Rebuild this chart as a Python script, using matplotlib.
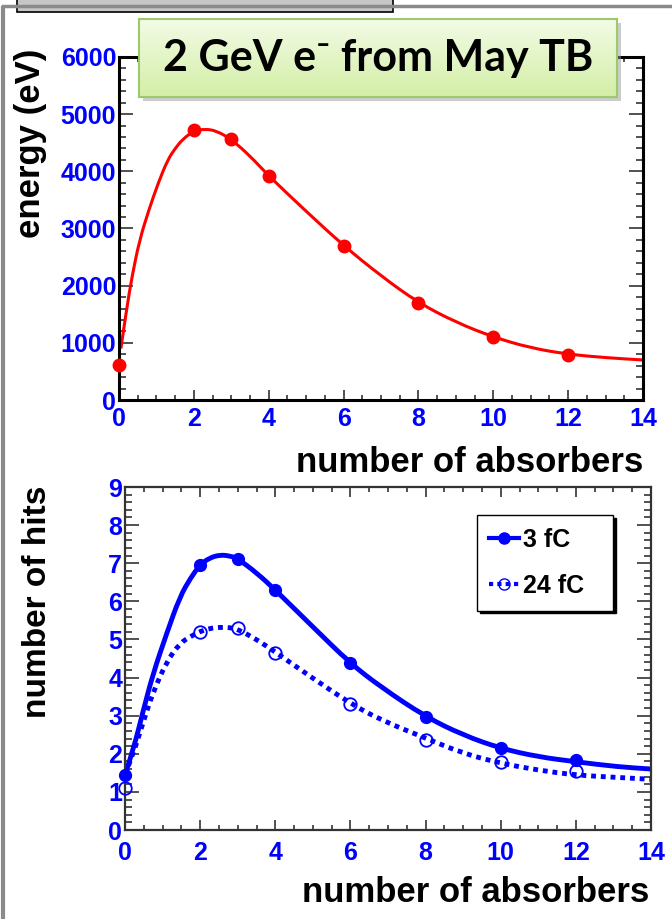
import matplotlib

matplotlib.use("Agg")
import matplotlib.pyplot as plt
import numpy as np
from matplotlib.patches import PathPatch, Rectangle
from matplotlib.path import Path
from matplotlib.lines import Line2D
from matplotlib.ticker import MultipleLocator

# ---------------------------------------------------------------------------
# Data
# ---------------------------------------------------------------------------

absorbers = [0, 2, 3, 4, 6, 8, 10, 12]
energy_ev = [620, 4720, 4560, 3910, 2700, 1690, 1095, 795]
hits_3fc = [1.44, 6.96, 7.10, 6.30, 4.37, 2.97, 2.14, 1.84]
hits_24fc = [1.09, 5.20, 5.29, 4.65, 3.31, 2.36, 1.78, 1.55]

# fitted curves
energy_fit_x = [0.05, 0.2, 0.35, 0.55, 0.8, 1.05, 1.3, 1.5, 1.7, 2.0, 2.3,
                2.6, 3.0, 3.5, 4.0, 5.0, 6.0, 7.0, 8.0, 9.0, 10.0, 11.0,
                12.0, 13.0, 14.0]
energy_fit = [900, 1580, 2170, 2800, 3330, 3800, 4200, 4400, 4560, 4710, 4740,
              4710, 4560, 4270, 3920, 3300, 2700, 2170, 1700, 1360, 1100, 910,
              800, 740, 700]

hits_fit_x = [0.0, 0.22, 0.49, 0.75, 1.11, 1.46, 1.75, 2.0, 2.25, 2.53, 2.8,
              3.0, 3.5, 4.0, 5.0, 6.0, 6.8, 8.0, 9.0, 10.0, 11.0, 12.0, 13.1,
              14.0]
fit_3fc = [1.45, 2.10, 3.15, 4.11, 5.16, 6.12, 6.62, 6.96, 7.14, 7.22, 7.19,
           7.12, 6.75, 6.30, 5.33, 4.37, 3.76, 2.97, 2.49, 2.14, 1.92, 1.79,
           1.66, 1.60]
fit_24fc = [1.45, 2.00, 2.85, 3.62, 4.42, 4.90, 5.08, 5.21, 5.29, 5.32, 5.31,
            5.27, 5.00, 4.67, 3.98, 3.32, 2.89, 2.41, 2.01, 1.75, 1.57, 1.44,
            1.38, 1.33]

x_ticks = [0, 2, 4, 6, 8, 10, 12, 14]
energy_ticks = [0, 1000, 2000, 3000, 4000, 5000, 6000]
hits_ticks = [0, 1, 2, 3, 4, 5, 6, 7, 8, 9]

title_text = "2 GeV e\u207b from May TB"
legend_labels = ["3 fC", "24 fC"]

# ---------------------------------------------------------------------------
# Layout helpers (pixel -> figure fraction)
# ---------------------------------------------------------------------------

W, H = 672, 919


def fx(x):
    return x / W


def fy(y):
    return 1 - y / H


def px_rect(x0, y0, x1, y1):
    return [fx(x0), fy(y1), (x1 - x0) / W, (y1 - y0) / H]


def smooth_curve(ax, xs, ys, **kwargs):
    """Draw the sampled fit as a smooth quadratic Bezier path."""
    pts = list(zip(xs, ys))
    verts = [pts[0]]
    codes = [Path.MOVETO]
    for i in range(1, len(pts) - 1):
        mid = ((pts[i][0] + pts[i + 1][0]) / 2, (pts[i][1] + pts[i + 1][1]) / 2)
        verts += [pts[i], mid]
        codes += [Path.CURVE3, Path.CURVE3]
    verts.append(pts[-1])
    codes.append(Path.LINETO)
    patch = PathPatch(Path(verts, codes), fill=False, **kwargs)
    ax.add_patch(patch)
    return patch


plt.rcParams["font.family"] = ["Liberation Sans", "DejaVu Sans"]
plt.rcParams["font.weight"] = "bold"

fig = plt.figure(figsize=(W / 100, H / 100), dpi=100)

# slide frame and grey header box
fig.add_artist(Line2D([fx(3), fx(3)], [fy(8), fy(925)], color="#8a8a8a", lw=3.0))
fig.add_artist(Line2D([fx(3), fx(675)], [fy(6), fy(6)], color="#8a8a8a", lw=2.5))
fig.add_artist(Rectangle((fx(17), fy(12)), (393 - 17) / W, 30 / H,
                         facecolor="#c6c6c6", edgecolor="black", lw=1.2))


def style_axes(ax, spine_color, spine_lw, labelsize, xpad, yminor):
    for sp in ax.spines.values():
        sp.set_color(spine_color)
        sp.set_linewidth(spine_lw)
    ax.set_xlim(0, 14)
    ax.set_xticks(x_ticks)
    ax.xaxis.set_minor_locator(MultipleLocator(0.5))
    ax.yaxis.set_minor_locator(MultipleLocator(yminor))
    ax.tick_params(which="both", direction="in", top=True, right=True,
                   color="#333333", width=1.2, labelcolor="#0000ff",
                   labelsize=labelsize)
    ax.tick_params(axis="y", which="major", length=10, pad=2)
    ax.tick_params(axis="y", which="minor", length=5)
    ax.tick_params(axis="x", which="major", length=7, pad=xpad)
    ax.tick_params(axis="x", which="minor", length=3.5)
    for lbl in ax.get_xticklabels() + ax.get_yticklabels():
        lbl.set_fontweight("bold")


# ---------------------------------------------------------------------------
# Top panel: energy
# ---------------------------------------------------------------------------

ax1 = fig.add_axes(px_rect(119, 57, 643, 400))
smooth_curve(ax1, energy_fit_x, energy_fit, edgecolor="#ff0000", lw=2.2,
             zorder=2)
ax1.plot(absorbers, energy_ev, "o", color="#ff0000", ms=9, clip_on=False,
         zorder=3)
ax1.set_ylim(0, 6000)
ax1.set_yticks(energy_ticks)
style_axes(ax1, "black", 2.2, 18, 5, 200)

fig.text(fx(31), fy(143), "energy (eV)", rotation=90, ha="center",
         va="center", fontsize=25, fontweight="bold")
fig.text(fx(643), fy(462), "number of absorbers", ha="right", va="center",
         fontsize=25, fontweight="bold")

# ---------------------------------------------------------------------------
# Bottom panel: number of hits
# ---------------------------------------------------------------------------

ax2 = fig.add_axes(px_rect(125, 487, 651, 830))
smooth_curve(ax2, hits_fit_x, fit_3fc, edgecolor="#0000ff", lw=3.5, zorder=2)
smooth_curve(ax2, hits_fit_x, fit_24fc, edgecolor="#0000ff", lw=3.5,
             linestyle=(0, (1, 1)), zorder=2)
ax2.plot(absorbers, hits_3fc, "o", color="#0000ff", ms=8.5, clip_on=False,
         zorder=3)
ax2.plot(absorbers, hits_24fc, "o", mfc="none", mec="#0000ff", mew=1.3,
         ms=9, clip_on=False, zorder=3)
ax2.set_ylim(0, 9)
ax2.set_yticks(hits_ticks)
style_axes(ax2, "#333333", 1.6, 18, 8, 0.2)

handles = [
    Line2D([], [], color="#0000ff", lw=3, marker="o", ms=8),
    Line2D([], [], color="#0000ff", lw=3, ls=(0, (1, 1)), marker="o",
           mfc="none", mec="#0000ff", ms=8),
]
ax2.legend(handles, legend_labels, loc="upper left",
           bbox_to_anchor=(0.669, 0.647, 0.259, 0.271), mode="expand",
           frameon=True, fancybox=False, edgecolor="black", framealpha=1,
           shadow={"color": "black", "alpha": 1}, handlelength=1.2,
           handletextpad=0.15, labelspacing=0.9, borderpad=0.5,
           borderaxespad=0, prop={"size": 18, "weight": "bold"})
ax2.get_legend().get_frame().set_linewidth(1.0)

fig.text(fx(38), fy(602), "number of hits", rotation=90, ha="center",
         va="center", fontsize=24, fontweight="bold")
fig.text(fx(649), fy(892), "number of absorbers", ha="right", va="center",
         fontsize=25, fontweight="bold")

# ---------------------------------------------------------------------------
# Green title box
# ---------------------------------------------------------------------------

fig.add_artist(Rectangle((fx(143), fy(101)), (617 - 139) / W, (97 - 19) / H,
                         facecolor="#9a9a9a", edgecolor="none", alpha=0.5,
                         zorder=10))
box_ax = fig.add_axes(px_rect(139, 19, 617, 97), zorder=11)
gradient = np.linspace(0, 1, 64).reshape(-1, 1)
box_ax.imshow(gradient, aspect="auto", extent=(0, 1, 0, 1),
              cmap=matplotlib.colors.LinearSegmentedColormap.from_list(
                  "greenbox", ["#f3fbe6", "#d3efa6"]))
box_ax.set_xticks([])
box_ax.set_yticks([])
for sp in box_ax.spines.values():
    sp.set_color("#9cc96b")
    sp.set_linewidth(1.5)
box_ax.text(0.5, 0.5, title_text, ha="center", va="center", fontsize=31,
            fontweight="bold", family=["Lato", "DejaVu Sans"],
            transform=box_ax.transAxes)

fig.savefig("out.png", dpi=100)
